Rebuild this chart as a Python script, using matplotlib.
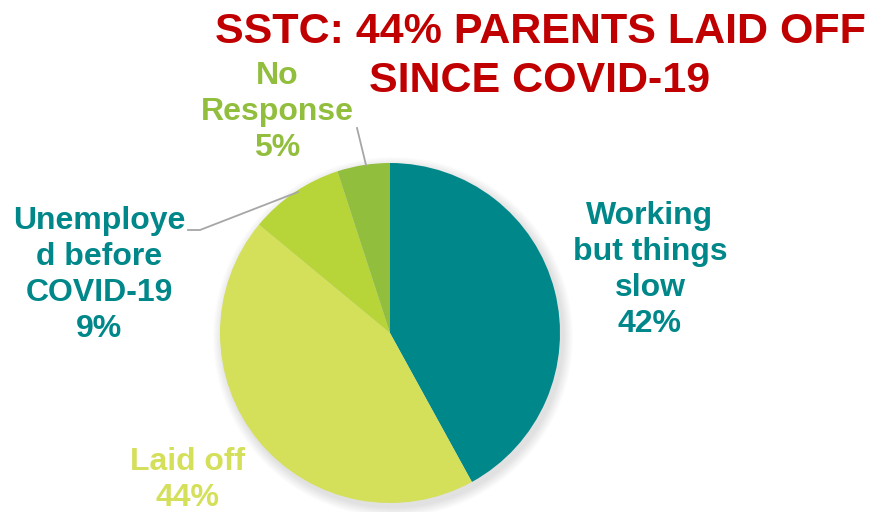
import matplotlib
matplotlib.use("Agg")
import matplotlib.pyplot as plt
from matplotlib.patches import Circle

# survey shares, clockwise from 12 o'clock
categories = ["Working\nbut things\nslow", "Laid off", "Unemploye\nd before\nCOVID-19", "No\nResponse"]
shares = [42, 44, 9, 5]
slice_colors = ["#00878A", "#D4DF5A", "#B7D438", "#92BE3E"]
text_colors = ["#00878A", "#D4DF5A", "#00878A", "#92BE3E"]
title_lines = ["SSTC: 44% PARENTS LAID OFF", "SINCE COVID-19"]

W, H = 884, 512
fig = plt.figure(figsize=(W / 100, H / 100), dpi=100)
ax = fig.add_axes([0, 0, 1, 1])

cx, cy, r = 390, H - 333, 170

# soft drop shadow under the pie
for i in range(10):
    ax.add_patch(Circle((cx + 3, cy - 4), r + 10 - i, color="black", alpha=0.012, lw=0, zorder=0))

ax.pie(shares, colors=slice_colors, startangle=90, counterclock=False,
       center=(cx, cy), radius=r, frame=True, wedgeprops=dict(linewidth=0))
ax.set_xlim(0, W)
ax.set_ylim(0, H)
ax.set_aspect("equal")
ax.axis("off")

label_pos = [(650, 270), (188, 480), (99, 275), (277, 112)]
for name, pct, (x, y), c in zip(categories, shares, label_pos, text_colors):
    ax.text(x, H - y, f"{name}\n{pct}%", color=c, ha="center", va="center",
            family="Liberation Sans", weight="bold", fontsize=23, linespacing=1.27)

# leader lines for the two small slices
ax.plot([188, 200, 298], [H - 230, H - 230, H - 192], color="#A6A6A6", lw=1.3)
ax.plot([357, 366], [H - 128, H - 165], color="#A6A6A6", lw=1.3)

# two-line title, baselines placed separately
for line, base in zip(title_lines, [43, 92]):
    ax.text(540, H - base, line, color="#C00000", ha="center", va="baseline",
            family="Liberation Sans", weight="bold", fontsize=31)

fig.savefig("out.png", dpi=100)
